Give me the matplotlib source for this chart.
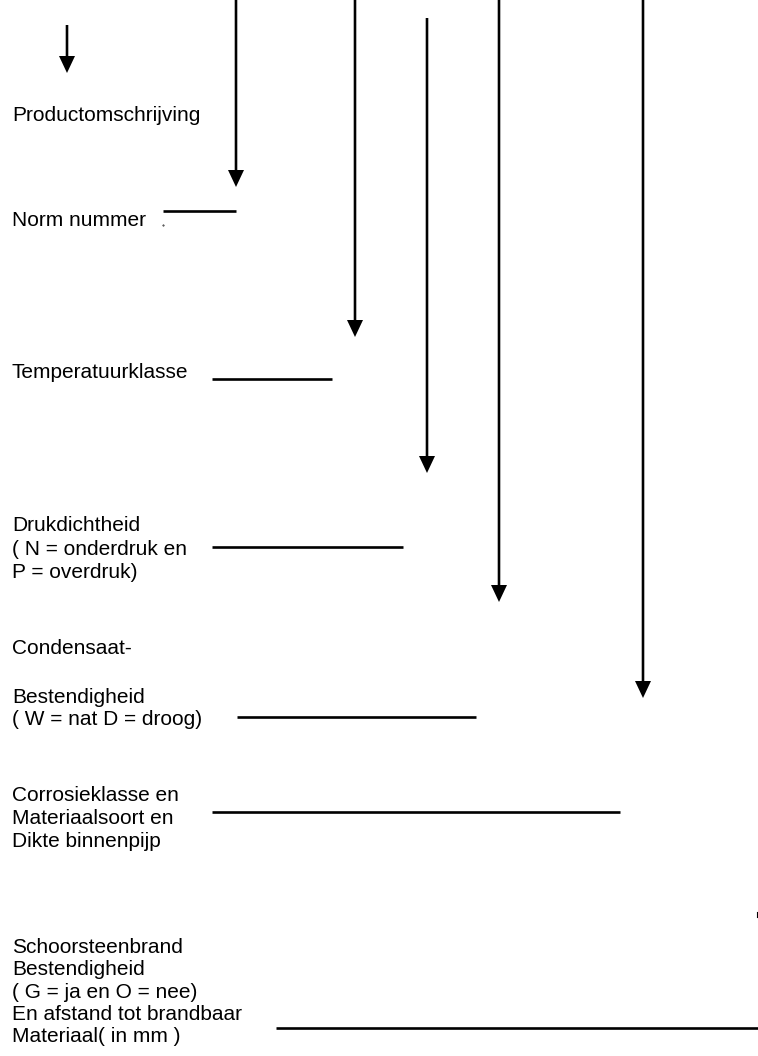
import matplotlib.pyplot as plt

# label blocks (each entry is one line of text)
labels = [
    "Productomschrijving",
    "Norm nummer",
    "Temperatuurklasse",
    "Drukdichtheid", "( N = onderdruk en", "P = overdruk)",
    "Condensaat-",
    "Bestendigheid", "( W = nat D = droog)",
    "Corrosieklasse en", "Materiaalsoort en", "Dikte binnenpijp",
    "Schoorsteenbrand", "Bestendigheid", "( G = ja en O = nee)",
    "En afstand tot brandbaar", "Materiaal( in mm )",
]
label_y = [121, 226, 378, 531, 555, 578, 654, 703, 725,
           801, 824, 847, 953, 975, 998, 1020, 1042]

# arrows: x, start y, tip y
arrow_x = [67, 236, 355, 427, 499, 643]
arrow_top = [25, 0, 0, 18, 0, 0]
arrow_tip = [73, 187, 337, 473, 602, 698]

# underline lines: x0, x1, y
line_x0 = [163, 212, 212, 237, 212, 276]
line_x1 = [236, 332, 403, 476, 620, 758]
line_y = [211, 379, 547, 717, 812, 1028]

plt.rcParams['font.family'] = ['Liberation Sans', 'DejaVu Sans']

fig = plt.figure(figsize=(7.58, 10.56), dpi=100)
ax = fig.add_axes([0, 0, 1, 1])
ax.set_xlim(0, 758)
ax.set_ylim(1056, 0)
ax.axis('off')

for t, y in zip(labels, label_y):
    ax.text(12, y, t, fontsize=15, va='baseline', ha='left', color='black')

for x, y0, y1 in zip(arrow_x, arrow_top, arrow_tip):
    ax.arrow(x, y0, 0, y1 - y0, width=2.6, head_width=16, head_length=17,
             length_includes_head=True, color='black', lw=0)

for x0, x1, y in zip(line_x0, line_x1, line_y):
    ax.plot([x0, x1], [y, y], color='black', lw=1.9, solid_capstyle='butt')

# small stray marks
ax.plot([163], [225], marker='.', ms=0.8, color='black')
ax.plot([757, 757], [912, 917], color='black', lw=0.8)

fig.savefig("out.png", dpi=100)
